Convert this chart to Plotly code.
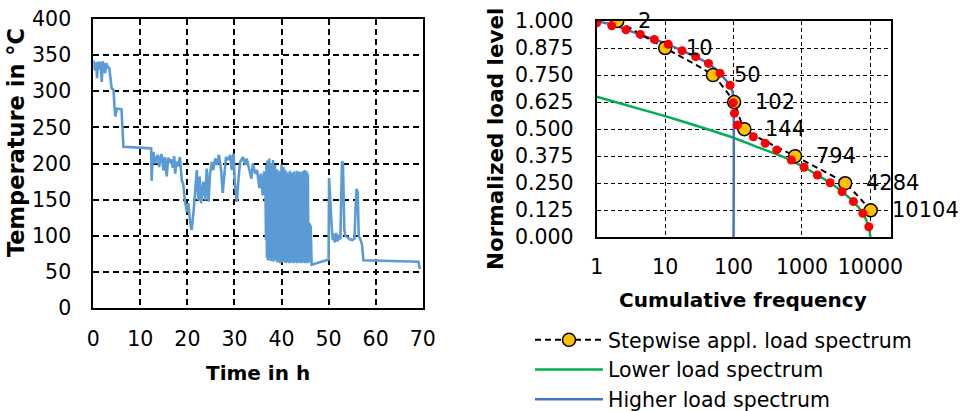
import math
import plotly.graph_objects as go

# ---------------- Temperature history ----------------
time_h = [
    0.0, 0.3, 0.6, 0.8, 1.0, 1.3, 1.5, 1.8, 2.0, 2.2, 2.5, 2.8, 3.0, 3.4, 3.9, 4.3, 4.5, 4.7, 5.0, 6.0, 6.4,
    12.3, 12.4, 12.6, 12.8, 13.1, 13.4, 13.7, 14.0, 14.2, 14.5, 14.9, 15.2, 15.6, 15.9, 16.2, 16.5, 16.9,
    17.2, 17.4, 17.7, 18.0, 18.4,
    18.8, 19.1, 19.5, 19.9, 20.2, 20.6, 20.9, 21.3, 21.6, 22.0, 22.3, 22.6, 22.9, 23.4, 23.8, 24.1, 24.5,
    24.8, 25.2, 25.5, 25.9, 26.3, 26.7, 27.2, 27.5, 27.9, 28.2, 28.7, 29.1, 29.4, 29.8, 30.1, 30.5, 30.9,
    31.2, 31.8, 32.3, 32.6, 33.1, 33.6, 33.9, 34.4, 34.8, 35.3, 35.6, 36.0, 36.3, 36.6,
    36.7, 36.8, 36.9, 37.0, 37.1, 37.2, 37.3, 37.4, 37.5, 37.6, 37.7, 37.8, 37.9, 38.0, 38.1, 38.2, 38.3,
    38.4, 38.5, 38.6, 38.7, 38.8, 38.9, 39.0, 39.1, 39.2, 39.3, 39.4, 39.5, 39.6, 39.7, 39.8, 39.9, 40.0,
    40.1, 40.2, 40.3, 40.4, 40.5, 40.6, 40.7, 40.8, 40.9, 41.0, 41.1, 41.2, 41.3, 41.4, 41.5, 41.6, 41.7,
    41.8, 41.9, 42.0, 42.1, 42.2, 42.3, 42.4, 42.5, 42.6, 42.7, 42.8, 42.9, 43.0, 43.1, 43.2, 43.3, 43.4,
    43.5, 43.6, 43.7, 43.8, 43.9, 44.0, 44.1, 44.2, 44.3, 44.4, 44.5, 44.6, 44.7, 44.8, 44.9, 45.0, 45.1,
    45.2, 45.3, 45.4, 45.5, 45.6, 45.7,
    45.8, 45.9, 46.0, 46.1, 46.2, 46.4,
    50.0, 50.1, 50.3, 50.7, 50.9, 51.1, 51.3, 51.6, 51.9, 52.2, 52.5, 52.7, 52.85, 53.05, 53.2, 53.35,
    53.6, 54.0, 54.5, 55.0, 55.5, 55.75, 55.95, 56.2, 56.4, 56.8, 57.1, 57.4, 69.1, 69.4,
]
temp_c = [
    343, 329, 340, 318, 341, 330, 341, 313, 341, 338, 325, 339, 334, 332, 304, 302, 279, 265, 276, 275, 223,
    221, 176, 210, 216, 200, 207, 212, 195, 207, 213, 190, 209, 182, 208, 201, 206, 194,
    210, 186, 203, 196, 209,
    177, 172, 147, 133, 145, 117, 108, 133, 163, 191, 149, 182, 145, 175, 149, 193, 147,
    186, 202, 191, 207, 198, 212, 189, 159, 196, 209, 205, 212, 191, 214, 172, 147, 182,
    202, 209, 198, 207, 193, 179, 200, 186, 191, 166, 186, 156, 189, 154,
    94, 198, 70, 204, 66, 196, 72, 207, 68, 189, 65, 201, 70, 194, 67, 205, 64,
    184, 69, 198, 66, 179, 71, 192, 63, 186, 68, 176, 65, 190, 62, 183, 67, 199,
    63, 187, 68, 195, 64, 181, 66, 191, 62, 178, 67, 188, 63, 185, 66, 176, 62,
    190, 65, 183, 63, 187, 67, 180, 62, 189, 66, 184, 63, 178, 65, 190, 62, 186,
    66, 181, 63, 189, 65, 185, 62, 188, 66, 182, 63, 190, 65, 186, 62, 191, 64,
    187, 63, 189, 62, 185, 64,
    118, 66, 117, 63, 114, 60,
    67, 180, 150, 108, 94, 103, 91, 104, 92, 101, 95, 185, 203, 200, 140, 108,
    100, 98, 95, 94, 96, 140, 165, 160, 100, 94, 88, 66, 64, 54,
]

temp_ticks = [0, 50, 100, 150, 200, 250, 300, 350, 400]
time_ticks = [0, 10, 20, 30, 40, 50, 60, 70]

# ---------------- Load spectra ----------------
step_freq = [2, 10, 50, 102, 144, 794, 4284, 10104]
step_level = [1.000, 0.875, 0.750, 0.625, 0.500, 0.375, 0.250, 0.125]

lower_freq = [1, 10, 32, 100, 200, 460, 700, 1070, 1680, 2580, 3860, 5650, 7740, 9480, 10000]
lower_level = [0.650, 0.560, 0.511, 0.460, 0.423, 0.380, 0.355, 0.324, 0.288, 0.252, 0.211,
               0.165, 0.111, 0.049, 0.000]

higher_freq = [1, 2, 4, 7, 11, 18, 28, 43, 63, 80, 92, 98, 100, 100]
higher_level = [1.000, 0.976, 0.940, 0.914, 0.892, 0.862, 0.834, 0.803, 0.758, 0.720, 0.690,
                0.665, 0.640, 0.000]

envelope_freq = [1, 1.66, 2.68, 4.34, 6.95, 11.1, 17.7, 28, 43, 63.5, 89, 99, 103, 114, 195, 290,
                 428, 700, 1073, 1679, 2576, 3856, 5647, 7742, 9480]
envelope_level = [0.992, 0.978, 0.959, 0.938, 0.915, 0.892, 0.863, 0.835, 0.804, 0.758, 0.703,
                  0.622, 0.573, 0.519, 0.465, 0.435, 0.404, 0.357, 0.324, 0.288, 0.252, 0.211,
                  0.165, 0.111, 0.049]

freq_ticks = [1, 10, 100, 1000, 10000]
level_ticks = [0.0, 0.125, 0.25, 0.375, 0.5, 0.625, 0.75, 0.875, 1.0]

FONT = "DejaVu Sans, Verdana, sans-serif"
TICK_SIZE = 20.5
TITLE_SIZE = 20

fig = go.Figure()

fig.add_trace(go.Scatter(
    x=time_h, y=temp_c, mode="lines", xaxis="x", yaxis="y",
    line=dict(color="#5B9BD5", width=2.6), showlegend=False, hoverinfo="skip",
))
fig.add_trace(go.Scatter(
    x=lower_freq, y=lower_level, mode="lines", xaxis="x2", yaxis="y2",
    name="Lower load spectrum", legendrank=2,
    line=dict(color="#00B050", width=2.5, shape="spline", smoothing=0.6),
))
fig.add_trace(go.Scatter(
    x=higher_freq, y=higher_level, mode="lines", xaxis="x2", yaxis="y2",
    name="Higher load spectrum", legendrank=3,
    line=dict(color="#4472C4", width=2.5, shape="spline", smoothing=0.6),
))
fig.add_trace(go.Scatter(
    x=step_freq, y=step_level, mode="lines+markers", xaxis="x2", yaxis="y2",
    name="Stepwise appl. load spectrum", legendrank=1,
    line=dict(color="black", width=2, dash="6px,4px", shape="spline", smoothing=0.4),
    marker=dict(size=13, color="#FFC000", line=dict(color="black", width=1.5)),
))
fig.add_trace(go.Scatter(
    x=envelope_freq, y=envelope_level, mode="markers", xaxis="x2", yaxis="y2",
    marker=dict(size=9, color="#FF0000"), showlegend=False, hoverinfo="skip",
))

annotations = []
for f, lv in zip(step_freq, step_level):
    annotations.append(dict(
        x=math.log10(f), y=lv, xref="x2", yref="y2", text=str(f), showarrow=False,
        xanchor="left", yanchor="middle", xshift=19,
        font=dict(family=FONT, size=21, color="black"),
    ))

# axis titles
annotations += [
    dict(x=16 / 964, y=1 - 143 / 411, xref="paper", yref="paper", text="<b>Temperature in °C</b>",
         textangle=-90, showarrow=False, xanchor="center", yanchor="middle",
         font=dict(family=FONT, size=22.5, color="black")),
    dict(x=258 / 964, y=1 - 373 / 411, xref="paper", yref="paper", text="<b>Time in h</b>",
         showarrow=False, xanchor="center", yanchor="middle",
         font=dict(family=FONT, size=TITLE_SIZE, color="black")),
    dict(x=496 / 964, y=1 - 139 / 411, xref="paper", yref="paper", text="<b>Normalized load level</b>",
         textangle=-90, showarrow=False, xanchor="center", yanchor="middle",
         font=dict(family=FONT, size=21.5, color="black")),
    dict(x=743 / 964, y=1 - 300 / 411, xref="paper", yref="paper", text="<b>Cumulative frequency</b>",
         showarrow=False, xanchor="center", yanchor="middle",
         font=dict(family=FONT, size=TITLE_SIZE, color="black")),
]

common_axis = dict(
    showline=True, linecolor="black", linewidth=2, mirror=True, ticks="",
    showgrid=True, gridcolor="black", zeroline=False, automargin=False,
    tickfont=dict(family=FONT, size=TICK_SIZE, color="black"),
)

fig.update_layout(
    width=964, height=411, margin=dict(l=0, r=0, t=0, b=0, autoexpand=False),
    paper_bgcolor="white", plot_bgcolor="white",
    font=dict(family=FONT, color="black"),
    xaxis=dict(common_axis, domain=[93.3 / 964, 422.7 / 964], range=[0, 70],
               tickvals=time_ticks, griddash="6px,4px", gridwidth=1.6,
               ticklabelstandoff=11, anchor="y"),
    yaxis=dict(common_axis, domain=[1 - 308 / 411, 1 - 19 / 411], range=[0, 400],
               tickvals=temp_ticks, griddash="6px,4px", gridwidth=1.6,
               ticklabelstandoff=16, anchor="x"),
    xaxis2=dict(common_axis, type="log", domain=[596.7 / 964, 891 / 964], range=[0, math.log10(20000)],
                tickvals=freq_ticks, ticktext=[str(v) for v in freq_ticks],
                griddash="4px,3px", gridwidth=1, ticklabelstandoff=10, anchor="y2"),
    yaxis2=dict(common_axis, domain=[1 - 237.3 / 411, 1 - 21 / 411], range=[0, 1],
                tickvals=level_ticks, tickformat=".3f",
                griddash="4px,3px", gridwidth=1, ticklabelstandoff=17, anchor="x2"),
    legend=dict(x=530 / 964, y=1 - 320 / 411, xanchor="left", yanchor="top",
                font=dict(family=FONT, size=20.5, color="black"),
                bgcolor="rgba(0,0,0,0)", itemwidth=68, tracegroupgap=0),
    annotations=annotations,
)

fig.write_html("out.html")
